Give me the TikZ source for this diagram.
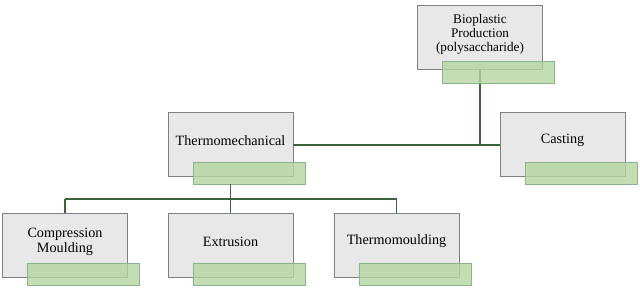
\documentclass[tikz,border=0pt]{standalone}
\usepackage{fontspec}
\setmainfont{Liberation Serif}
\begin{document}
\begin{tikzpicture}[x=1pt,y=-1pt,
  graybox/.style={draw=black!50,line width=0.6pt,fill=black!9,minimum width=125pt,minimum height=64pt,inner sep=0pt,outer sep=0pt},
  greenbox/.style={draw=green!35!black!45!white,line width=0.6pt,fill={rgb,255:red,180;green,214;blue,160},fill opacity=0.8,minimum width=112pt,minimum height=22pt,inner sep=0pt,outer sep=0pt},
  lbl/.style={font=\fontsize{14.2}{15}\selectfont,align=center,inner sep=0pt},
  conn/.style={draw={rgb,255:red,60;green,100;blue,60},line width=1.3pt}]
\useasboundingbox (0,0) rectangle (640,291);
\fill[white] (0,0) rectangle (640,291);
% gray boxes
\node[graybox] (top) at (480,37.5) {};
\node[graybox] (thm) at (230.5,144.5) {};
\node[graybox] (cas) at (562.5,144) {};
\node[graybox] (cmp) at (65,245) {};
\node[graybox] (ext) at (230.5,245) {};
\node[graybox] (tmd) at (396.5,245) {};
% connectors
\coordinate (j1) at (top.south |- 0,145);
\coordinate (j2) at (thm.south |- 0,199);
\draw[conn] (top.south) -- (j1);
\draw[conn] (thm.east |- 0,145) -- (cas.west |- 0,145);
% green boxes
\node[greenbox] (topg) at (498,72.5) {};
\node[greenbox] (thmg) at (249.5,173.5) {};
\node[greenbox] (casg) at (581,173) {};
\node[greenbox] (cmpg) at (83.5,274) {};
\node[greenbox] (extg) at (249.5,274) {};
\node[greenbox] (tmdg) at (415.5,274) {};
\draw[conn] (thm.south |- thmg.south) -- (j2);
\draw[conn] (cmp.north |- j2) -- (tmd.north |- j2);
\draw[conn] (cmp.north |- j2) -- (cmp.north);
\draw[conn] (j2) -- (ext.north);
\draw[conn] (tmd.north |- j2) -- (tmd.north);
% labels
\node[lbl,font=\fontsize{13.2}{14}\selectfont] (topt) at (480,34) {Bioplastic\\Production\\(polysaccharide)};
\node[lbl] (thmt) at (230.5,141) {Thermomechanical};
\node[lbl] (cast) at (562.5,140.5) {Casting};
\node[lbl] (cmpt) at (65,241.5) {Compression\\Moulding};
\node[lbl] (extt) at (230.5,241.5) {Extrusion};
\node[lbl] (tmdt) at (396.5,241.5) {Thermomoulding};
\end{tikzpicture}
\end{document}
